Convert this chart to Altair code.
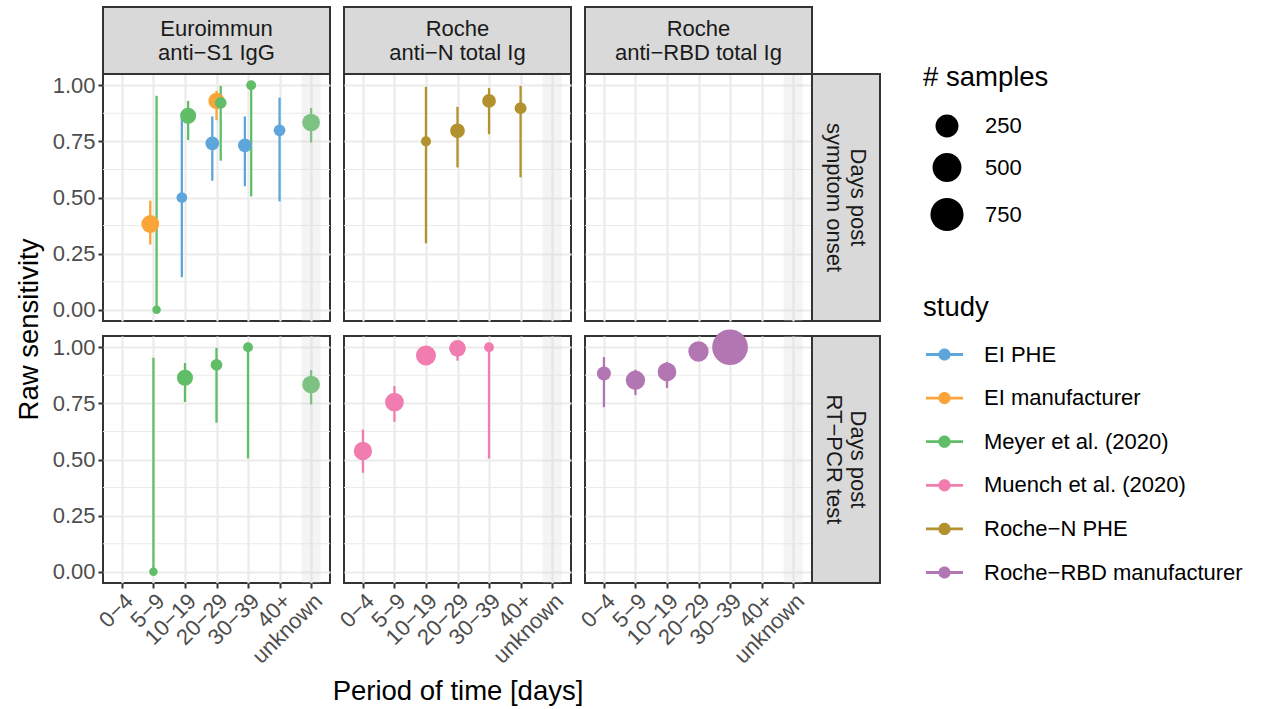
import altair as alt
import pandas as pd

# ---------------- data ----------------
PERIODS = ["0−4", "5−9", "10−19", "20−29", "30−39", "40+", "unknown"]
STUDIES = ["EI PHE", "EI manufacturer", "Meyer et al. (2020)",
           "Muench et al. (2020)", "Roche−N PHE", "Roche−RBD manufacturer"]
COLORS = ["#5DA5DA", "#FAA43A", "#60BD68", "#F17CB0", "#B2912F", "#B276B2"]
ASSAYS = ["Euroimmun\nanti−S1 IgG", "Roche\nanti−N total Ig", "Roche\nanti−RBD total Ig"]
TIMES = ["Days post\nsymptom onset", "Days post\nRT−PCR test"]

ASSAY_IDX = [0] * 11 + [0] * 5 + [1] * 4 + [1] * 5 + [2] * 5
TIME_IDX = [0] * 11 + [1] * 5 + [0] * 4 + [1] * 5 + [1] * 5
STUDY = (["EI manufacturer", "Meyer et al. (2020)", "EI PHE", "Meyer et al. (2020)",
          "EI PHE", "EI manufacturer", "Meyer et al. (2020)", "EI PHE",
          "Meyer et al. (2020)", "EI PHE", "Meyer et al. (2020)"]
         + ["Meyer et al. (2020)"] * 5
         + ["Roche−N PHE"] * 4
         + ["Muench et al. (2020)"] * 5
         + ["Roche−RBD manufacturer"] * 5)
PERIOD = (["5−9", "5−9", "10−19", "10−19", "20−29", "20−29", "20−29", "30−39",
           "30−39", "40+", "unknown"]
          + ["5−9", "10−19", "20−29", "30−39", "unknown"]
          + ["10−19", "20−29", "30−39", "40+"]
          + ["0−4", "5−9", "10−19", "20−29", "30−39"]
          + ["0−4", "5−9", "10−19", "20−29", "30−39"])
ESTIMATE = ([0.382, 0.0, 0.50, 0.864, 0.741, 0.930, 0.921, 0.732, 1.0, 0.799, 0.834]
            + [0.0, 0.864, 0.921, 1.0, 0.834]
            + [0.75, 0.797, 0.930, 0.898]
            + [0.538, 0.756, 0.963, 0.995, 1.0]
            + [0.883, 0.853, 0.890, 0.981, 1.0])
LOWER = ([0.290, 0.0, 0.145, 0.756, 0.575, 0.844, 0.664, 0.550, 0.505, 0.483, 0.745]
         + [0.0, 0.756, 0.664, 0.505, 0.745]
         + [0.296, 0.634, 0.782, 0.590]
         + [0.441, 0.668, 0.940, 0.940, 0.504]
         + [0.733, 0.787, 0.819, 0.960, 0.990])
UPPER = ([0.486, 0.953, 0.856, 0.930, 0.861, 0.975, 0.997, 0.861, 1.0, 0.945, 0.898]
         + [0.953, 0.930, 0.997, 1.0, 0.898]
         + [0.993, 0.904, 0.987, 0.997]
         + [0.633, 0.827, 0.980, 1.0, 1.0]
         + [0.956, 0.900, 0.935, 0.995, 1.0])
N_SAMPLES = ([110, 1, 12, 75, 41, 80, 20, 41, 7, 20, 107]
             + [1, 75, 20, 7, 107]
             + [8, 54, 41, 22]
             + [120, 129, 161, 87, 7]
             + [45, 143, 129, 169, 930])
MINOR_Y = [0.125, 0.375, 0.625, 0.875]
SIZE_BREAKS = [250, 500, 750]

# ---------------- build table + dodge ----------------
df = pd.DataFrame({
    "assay": ASSAY_IDX, "time": TIME_IDX, "study": STUDY, "period": PERIOD,
    "estimate": ESTIMATE, "lower": LOWER, "upper": UPPER, "n": N_SAMPLES,
})
df["pidx"] = df["period"].map(PERIODS.index)
df["sidx"] = df["study"].map(STUDIES.index)
DODGE = 0.4
df["rank"] = df.groupby(["assay", "time", "pidx"])["sidx"].rank(method="first") - 1
df["cnt"] = df.groupby(["assay", "time", "pidx"])["sidx"].transform("count")
df["xpos"] = df["pidx"] - DODGE / 2 + (df["rank"] + 0.5) * DODGE / df["cnt"]

# ---------------- styling ----------------
W, H = 227, 247
STRIP = 67
FONT = "Liberation Sans"
LAB = 22
TIT = 27.5
LH = 24
GRID = "#ebebeb"
DARK = "#333333"

XS = alt.Scale(domain=[-0.6, 6.6], nice=False, zero=False)
YS = alt.Scale(domain=[-0.05, 1.05], nice=False, zero=False)
CS = alt.Scale(domain=STUDIES, range=COLORS)
SS = alt.Scale(type="pow", exponent=0.73, domain=[0, 1000], range=[64, 1340])

LABEL_EXPR = "[" + ",".join("'%s'" % p for p in PERIODS) + "][datum.value]"
UNK = PERIODS.index("unknown")

LEG_PATH = ("M-1,-0.075H1V0.075H-1Z "
            "M-0.33,0A0.33,0.33,0,1,1,0.33,0A0.33,0.33,0,1,1,-0.33,0Z")

SIZE_LEGEND = alt.Legend(
    title="# samples", values=SIZE_BREAKS, orient="none", legendX=820, legendY=-10,
    symbolFillColor="black", symbolStrokeWidth=0, symbolOpacity=1,
    titleFontSize=TIT, labelFontSize=LAB, titleFontWeight="normal",
    titleColor="black", labelColor="black", titlePadding=23, rowPadding=15.5,
    symbolOffset=7, labelOffset=21, padding=0, labelLimit=0,
)
COLOR_LEGEND = alt.Legend(
    title="study", orient="none", legendX=820, legendY=219.5,
    symbolType=LEG_PATH, symbolSize=1369, symbolStrokeWidth=0, symbolOpacity=1,
    titleFontSize=TIT, labelFontSize=LAB, titleFontWeight="normal",
    titleColor="black", labelColor="black", titlePadding=15, rowPadding=13.6,
    symbolOffset=3, labelOffset=21, padding=0, labelLimit=0,
)


def x_axis(bottom, title):
    kw = dict(values=list(range(len(PERIODS))), labelExpr=LABEL_EXPR, labels=bottom,
              ticks=bottom, domain=False, grid=True, gridColor=GRID, gridWidth=2.2,
              labelAngle=-45, labelAlign="right", labelBaseline="top",
              labelFontSize=LAB, labelColor="#4d4d4d", tickColor=DARK, tickWidth=2,
              tickSize=5, labelPadding=2, labelOverlap=False, labelBound=False)
    if title:
        kw.update(title=title, titleFontSize=TIT, titleFontWeight="normal",
                  titleColor="black", titlePadding=10)
    else:
        kw.update(title=None)
    return alt.Axis(**kw)


def y_axis(left, title):
    kw = dict(values=[0, 0.25, 0.5, 0.75, 1.0], format=".2f", labels=left, ticks=left,
              domain=False, grid=True, gridColor=GRID, gridWidth=2.2,
              labelFontSize=LAB, labelColor="#4d4d4d", tickColor=DARK, tickWidth=2,
              tickSize=5, labelPadding=3, labelOverlap=False)
    if title:
        kw.update(title=title, titleFontSize=TIT, titleFontWeight="normal",
                  titleColor="black", titleX=-74, titleY=H + 8, titleAngle=-90,
                  titleAlign="center", titleBaseline="middle")
    else:
        kw.update(title=None)
    return alt.Axis(**kw)


def panel(ai, ti):
    sub = df[(df["assay"] == ai) & (df["time"] == ti)]
    bottom = ti == 1
    left = ai == 0
    xa = x_axis(bottom, "Period of time [days]" if (bottom and ai == 1) else None)
    ya = y_axis(left, "Raw sensitivity" if (left and ti == 0) else None)

    minor = alt.Chart(pd.DataFrame({"v": MINOR_Y})).mark_rule(
        color=GRID, strokeWidth=1.1).encode(y=alt.Y("v:Q", scale=YS, axis=ya))
    rules = alt.Chart(sub).mark_rule(strokeWidth=2.3).encode(
        x=alt.X("xpos:Q", scale=XS, axis=xa),
        y=alt.Y("lower:Q", scale=YS, axis=ya),
        y2="upper:Q",
        color=alt.Color("study:N", scale=CS, legend=COLOR_LEGEND),
    )
    pts = alt.Chart(sub).mark_circle(opacity=1).encode(
        x=alt.X("xpos:Q", scale=XS, axis=xa),
        y=alt.Y("estimate:Q", scale=YS, axis=ya),
        size=alt.Size("n:Q", scale=SS, legend=SIZE_LEGEND),
        color=alt.Color("study:N", scale=CS, legend=COLOR_LEGEND),
    )
    shade = alt.Chart(pd.DataFrame({"x0": [UNK - 0.3], "x1": [UNK + 0.3]})).mark_rect(
        color="#d2d2d2", opacity=0.25).encode(
        x=alt.X("x0:Q", scale=XS, axis=xa), x2="x1:Q",
        y=alt.value(0), y2=alt.value(H))
    layers = [minor, rules, pts, shade]

    if ti == 0:
        lab = pd.DataFrame({"label": [ASSAYS[ai]]})
        layers.append(alt.Chart(lab).mark_rect(fill="#d9d9d9", stroke=DARK, strokeWidth=2).encode(
            x=alt.value(0), x2=alt.value(W), y=alt.value(-STRIP), y2=alt.value(0)))
        layers.append(alt.Chart(lab).mark_text(
            lineBreak="\n", fontSize=LAB, color="#1a1a1a", lineHeight=LH,
            align="center", baseline="middle", dy=-LH / 2).encode(
            x=alt.value(W / 2), y=alt.value(-STRIP / 2), text="label:N"))
    if ai == 2:
        lab = pd.DataFrame({"label": [TIMES[ti]]})
        layers.append(alt.Chart(lab).mark_rect(fill="#d9d9d9", stroke=DARK, strokeWidth=2).encode(
            x=alt.value(W), x2=alt.value(W + STRIP + 1), y=alt.value(0), y2=alt.value(H)))
        layers.append(alt.Chart(lab).mark_text(
            lineBreak="\n", fontSize=LAB, color="#1a1a1a", lineHeight=LH, angle=90,
            align="center", baseline="middle", dy=-LH / 2).encode(
            x=alt.value(W + (STRIP + 1) / 2), y=alt.value(H / 2), text="label:N"))
    return alt.layer(*layers).properties(width=W, height=H)


panels = [panel(ai, ti) for ti in range(2) for ai in range(3)]
chart = alt.concat(*panels, columns=3, spacing={"row": 15, "column": 14}).properties(
    bounds="flush", align="all",
    padding={"left": 14, "top": 5, "right": 5, "bottom": 5},
).configure(font=FONT).configure_view(stroke=DARK, strokeWidth=2)

chart.save("out.html", embed_options={"renderer": "svg", "actions": False})
